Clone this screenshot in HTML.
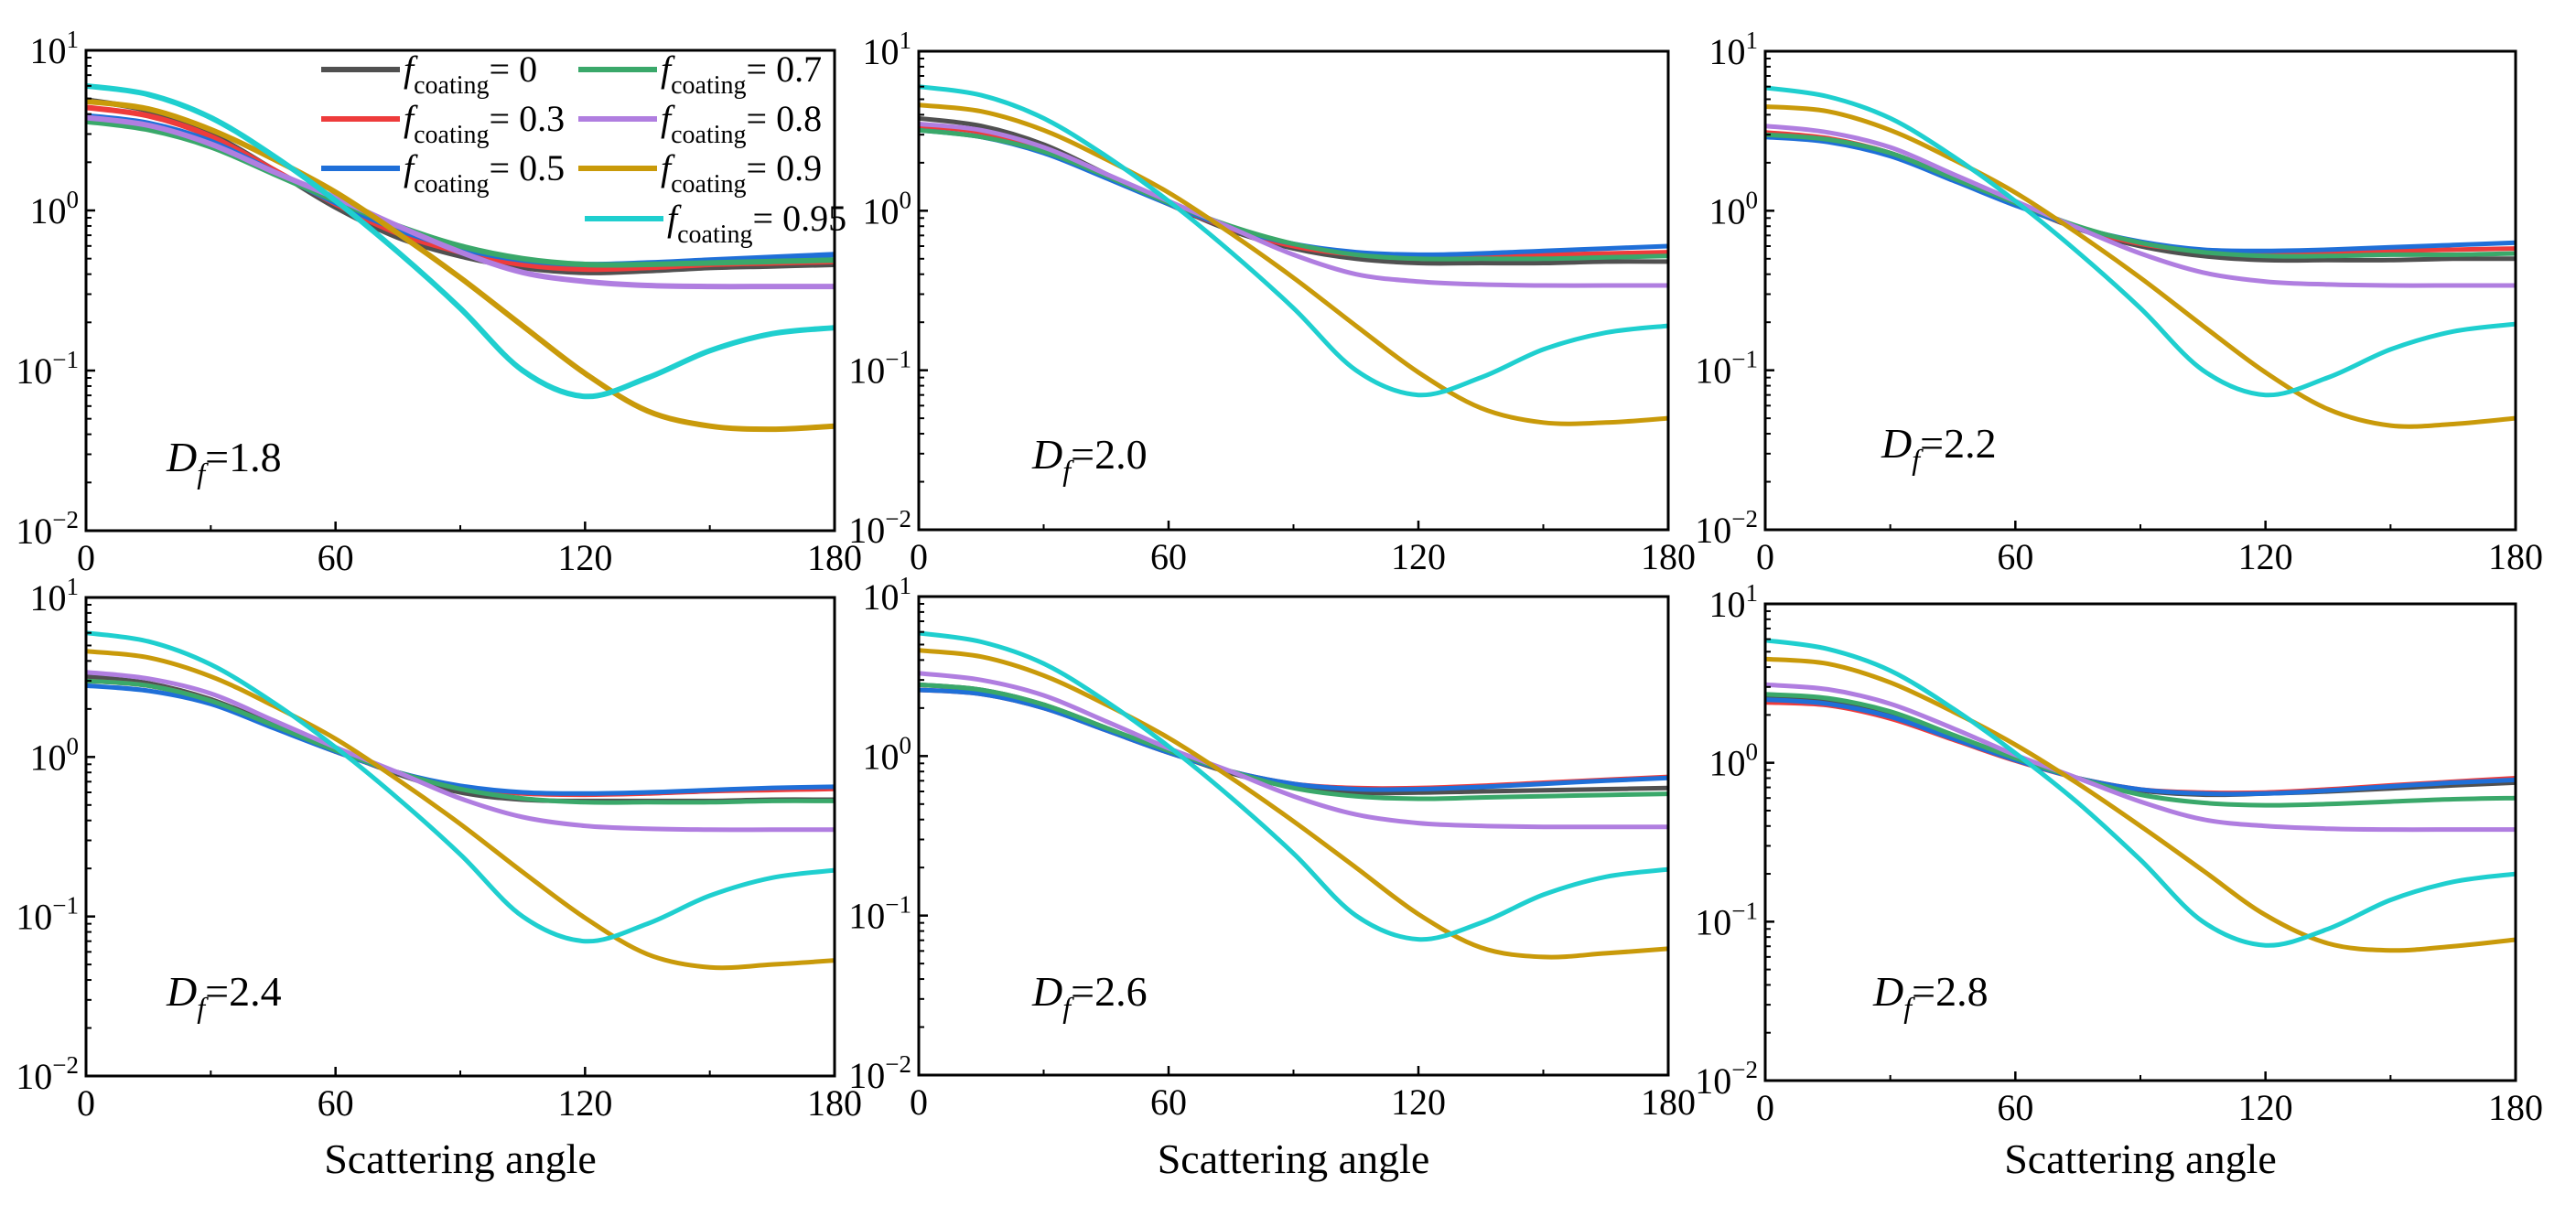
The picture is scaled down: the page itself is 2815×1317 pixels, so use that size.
<!DOCTYPE html>
<html><head><meta charset="utf-8">
<style>
html,body{margin:0;padding:0;background:#fff;}
svg{display:block;font-family:"Liberation Serif",serif;}
</style></head>
<body>
<svg id="fig" width="2815" height="1317" viewBox="0 0 2815 1317" xmlns="http://www.w3.org/2000/svg"></svg>
<script>
const angles=[0,15,30,45,60,75,90,105,120,135,150,165,180];
const xTicks=[0,60,120,180];
const xMinor=[30,90,150];
const yExps=[-2,-1,0,1];
const seriesNames=["f0","f03","f05","f07","f08","f09","f095"];
const seriesLabels=["0","0.3","0.5","0.7","0.8","0.9","0.95"];
const colors=["#505050","#ee3b3b","#1f6fd8","#3aa86a","#b07ee0","#c99a0a","#1fcfcf"];
const dfLabels=["1.8","2.0","2.2","2.4","2.6","2.8"];
const p1_f0=[4.9,4.2,3.0,1.8,1.05,0.68,0.52,0.44,0.41,0.42,0.44,0.45,0.46];
const p1_f03=[4.4,3.9,2.9,1.8,1.1,0.72,0.55,0.46,0.43,0.44,0.46,0.47,0.48];
const p1_f05=[3.9,3.5,2.7,1.75,1.12,0.76,0.58,0.49,0.46,0.47,0.49,0.51,0.53];
const p1_f07=[3.6,3.2,2.5,1.7,1.15,0.8,0.6,0.5,0.46,0.46,0.47,0.48,0.49];
const p1_f08=[3.8,3.4,2.6,1.75,1.2,0.8,0.55,0.41,0.36,0.34,0.335,0.335,0.335];
const p1_f09=[4.8,4.3,3.2,2.1,1.3,0.72,0.38,0.19,0.096,0.056,0.045,0.043,0.045];
const p1_f095=[6.0,5.3,3.8,2.2,1.15,0.55,0.245,0.1,0.069,0.09,0.133,0.17,0.185];
const p2_f0=[3.8,3.4,2.6,1.7,1.1,0.75,0.58,0.5,0.47,0.47,0.47,0.48,0.48];
const p2_f03=[3.4,3.1,2.4,1.65,1.1,0.77,0.6,0.53,0.51,0.52,0.53,0.54,0.55];
const p2_f05=[3.2,2.9,2.3,1.6,1.1,0.78,0.62,0.55,0.53,0.54,0.56,0.58,0.6];
const p2_f07=[3.2,2.9,2.35,1.65,1.12,0.8,0.62,0.53,0.5,0.5,0.5,0.51,0.52];
const p2_f08=[3.5,3.2,2.5,1.7,1.15,0.78,0.53,0.4,0.36,0.345,0.34,0.34,0.34];
const p2_f09=[4.6,4.2,3.2,2.1,1.3,0.72,0.38,0.19,0.097,0.058,0.047,0.047,0.05];
const p2_f095=[6.0,5.3,3.8,2.2,1.15,0.55,0.245,0.1,0.07,0.09,0.135,0.172,0.19];
const p3_f0=[3.0,2.8,2.3,1.6,1.1,0.77,0.6,0.52,0.49,0.49,0.49,0.5,0.5];
const p3_f03=[3.1,2.85,2.3,1.6,1.1,0.78,0.62,0.56,0.54,0.55,0.56,0.57,0.58];
const p3_f05=[2.9,2.7,2.2,1.55,1.08,0.79,0.64,0.57,0.56,0.57,0.59,0.61,0.63];
const p3_f07=[3.0,2.8,2.3,1.6,1.12,0.8,0.63,0.55,0.52,0.52,0.53,0.53,0.54];
const p3_f08=[3.4,3.1,2.5,1.7,1.15,0.78,0.54,0.41,0.36,0.345,0.34,0.34,0.34];
const p3_f09=[4.5,4.2,3.2,2.1,1.3,0.72,0.38,0.19,0.097,0.057,0.045,0.046,0.05];
const p3_f095=[5.9,5.2,3.8,2.2,1.15,0.55,0.245,0.1,0.07,0.09,0.135,0.175,0.195];
const p4_f0=[3.2,2.9,2.3,1.6,1.1,0.78,0.6,0.54,0.53,0.53,0.53,0.54,0.54];
const p4_f03=[3.0,2.8,2.25,1.55,1.08,0.8,0.65,0.59,0.58,0.59,0.61,0.62,0.63];
const p4_f05=[2.8,2.6,2.15,1.52,1.08,0.8,0.66,0.6,0.59,0.6,0.62,0.64,0.65];
const p4_f07=[3.0,2.8,2.25,1.58,1.1,0.8,0.63,0.55,0.52,0.52,0.52,0.53,0.53];
const p4_f08=[3.4,3.1,2.5,1.7,1.15,0.8,0.55,0.42,0.37,0.355,0.35,0.35,0.35];
const p4_f09=[4.6,4.2,3.2,2.1,1.3,0.72,0.38,0.19,0.098,0.058,0.048,0.05,0.053];
const p4_f095=[6.0,5.3,3.8,2.2,1.15,0.55,0.245,0.1,0.07,0.09,0.135,0.175,0.195];
const p5_f0=[2.8,2.6,2.1,1.5,1.06,0.78,0.64,0.59,0.59,0.6,0.61,0.62,0.63];
const p5_f03=[2.6,2.45,2.0,1.45,1.05,0.8,0.67,0.63,0.63,0.65,0.68,0.71,0.74];
const p5_f05=[2.6,2.45,2.0,1.45,1.05,0.8,0.67,0.62,0.62,0.64,0.67,0.7,0.73];
const p5_f07=[2.8,2.6,2.1,1.5,1.08,0.8,0.63,0.56,0.54,0.55,0.56,0.57,0.58];
const p5_f08=[3.3,3.0,2.4,1.65,1.12,0.8,0.56,0.43,0.38,0.365,0.36,0.36,0.36];
const p5_f09=[4.6,4.2,3.2,2.1,1.3,0.73,0.39,0.2,0.102,0.063,0.055,0.058,0.062];
const p5_f095=[5.9,5.2,3.8,2.2,1.15,0.55,0.245,0.1,0.071,0.09,0.135,0.175,0.195];
const p6_f0=[2.6,2.45,2.0,1.45,1.05,0.8,0.67,0.63,0.64,0.66,0.69,0.72,0.75];
const p6_f03=[2.4,2.3,1.9,1.4,1.03,0.8,0.68,0.65,0.65,0.68,0.72,0.76,0.8];
const p6_f05=[2.5,2.35,1.95,1.42,1.04,0.8,0.68,0.64,0.64,0.67,0.71,0.75,0.78];
const p6_f07=[2.7,2.55,2.1,1.5,1.07,0.8,0.63,0.56,0.54,0.55,0.57,0.59,0.6];
const p6_f08=[3.1,2.9,2.35,1.65,1.12,0.8,0.57,0.44,0.4,0.385,0.38,0.38,0.38];
const p6_f09=[4.5,4.2,3.2,2.1,1.3,0.74,0.4,0.21,0.11,0.073,0.066,0.07,0.077];
const p6_f095=[5.9,5.2,3.8,2.2,1.15,0.56,0.245,0.1,0.071,0.09,0.137,0.178,0.2];
const panelData=[
 [p1_f0,p1_f03,p1_f05,p1_f07,p1_f08,p1_f09,p1_f095],
 [p2_f0,p2_f03,p2_f05,p2_f07,p2_f08,p2_f09,p2_f095],
 [p3_f0,p3_f03,p3_f05,p3_f07,p3_f08,p3_f09,p3_f095],
 [p4_f0,p4_f03,p4_f05,p4_f07,p4_f08,p4_f09,p4_f095],
 [p5_f0,p5_f03,p5_f05,p5_f07,p5_f08,p5_f09,p5_f095],
 [p6_f0,p6_f03,p6_f05,p6_f07,p6_f08,p6_f09,p6_f095]];

const NS="http://www.w3.org/2000/svg";
const svg=document.getElementById('fig');
function mk(tag,attrs,parent){const e=document.createElementNS(NS,tag);for(const k in attrs)e.setAttribute(k,attrs[k]);(parent||svg).appendChild(e);return e;}
const frames=[
 {l:94,r:912,t:55,b:580,dx:182,dy:515,lw:6},
 {l:1004,r:1823,t:56,b:579,dx:1128,dy:512,lw:5},
 {l:1929,r:2749,t:56,b:579,dx:2056,dy:500,lw:5},
 {l:94,r:912,t:653,b:1176,dx:182,dy:1099,lw:5},
 {l:1004,r:1823,t:652,b:1175,dx:1128,dy:1099,lw:5},
 {l:1929,r:2749,t:660,b:1181,dx:2047,dy:1099,lw:5}];

frames.forEach((f,pi)=>{
  const g=mk('g',{});
  
  
  const xs=a=>f.l+(a-0)/(180-0)*(f.r-f.l);
  const ys=v=>f.b-(Math.log10(v)-(-2))/3*(f.b-f.t);
  panelData[pi].forEach((vals,si)=>{
    const pts=angles.map((a,i)=>[xs(a),ys(vals[i])]);
    let d='M'+pts[0][0].toFixed(1)+','+pts[0][1].toFixed(1);
    for(let i=0;i<pts.length-1;i++){
      const p0=pts[Math.max(0,i-1)],p1=pts[i],p2=pts[i+1],p3=pts[Math.min(pts.length-1,i+2)];
      const c1=[p1[0]+(p2[0]-p0[0])/6,p1[1]+(p2[1]-p0[1])/6];
      const c2=[p2[0]-(p3[0]-p1[0])/6,p2[1]-(p3[1]-p1[1])/6];
      d+=' C'+c1[0].toFixed(1)+','+c1[1].toFixed(1)+' '+c2[0].toFixed(1)+','+c2[1].toFixed(1)+' '+p2[0].toFixed(1)+','+p2[1].toFixed(1);
    }
    const p=mk('path',{d:d,fill:'none',stroke:colors[si],'stroke-width':f.lw,'stroke-linejoin':'round'},g);
    
    
  });
  const fr=mk('rect',{x:f.l,y:f.t,width:f.r-f.l,height:f.b-f.t,fill:'none',stroke:'#000','stroke-width':3},g);
  
  
  xTicks.forEach(a=>{
    mk('line',{x1:xs(a),x2:xs(a),y1:f.b,y2:f.b-10,stroke:'#000','stroke-width':2.5},g);
    const t=mk('text',{x:xs(a),y:f.b+43,'font-size':40,'text-anchor':'middle'},g);
    t.textContent=a;
    
    
  });
  xMinor.forEach(a=>{mk('line',{x1:xs(a),x2:xs(a),y1:f.b,y2:f.b-6,stroke:'#000','stroke-width':2},g);});
  yExps.forEach(e=>{
    const y=ys(Math.pow(10,e));
    mk('line',{x1:f.l,x2:f.l+10,y1:y,y2:y,stroke:'#000','stroke-width':2.5},g);
    const t=mk('text',{x:f.l-8,y:y+14,'font-size':40,'text-anchor':'end'},g);
    
    
    const a=mk('tspan',{},t);a.textContent='10';
    const b=mk('tspan',{'font-size':27,dy:-17},t);b.textContent=(e<0?'\u2212':'')+Math.abs(e);
    if(e<1){for(let m=2;m<10;m++){const yy=ys(m*Math.pow(10,e));mk('line',{x1:f.l,x2:f.l+6,y1:yy,y2:yy,stroke:'#000','stroke-width':2},g);}}
  });
  const dl=mk('text',{x:f.dx,y:f.dy,'font-size':46},g);
  
  
  const d1=mk('tspan',{'font-style':'italic'},dl);d1.textContent='D';
  const d2=mk('tspan',{'font-style':'italic','font-size':32,dy:13},dl);d2.textContent='f';
  const d3=mk('tspan',{dy:-13},dl);d3.textContent='=' + dfLabels[pi];
  if(pi>=3){
    const xl=mk('text',{x:(f.l+f.r)/2,y:1282,'font-size':46,'text-anchor':'middle'},svg);
    xl.textContent='Scattering angle';
    
    
  }
});
const legend=mk('g',{});


const legPos=[[351,76],[351,130],[351,184],[632,76],[632,130],[632,184],[639,239]];
legPos.forEach((p,i)=>{
  const e=mk('g',{},legend);
  
  
  mk('line',{x1:p[0],x2:p[0]+86,y1:p[1],y2:p[1],stroke:colors[i],'stroke-width':6},e);
  const t=mk('text',{x:p[0]+90,y:p[1]+13,'font-size':40},e);
  const a=mk('tspan',{'font-style':'italic'},t);a.textContent='f';
  const b=mk('tspan',{'font-size':28,dy:13},t);b.textContent='coating';
  const c=mk('tspan',{dy:-13},t);c.textContent='= '+seriesLabels[i];
});
</script>
</body></html>
